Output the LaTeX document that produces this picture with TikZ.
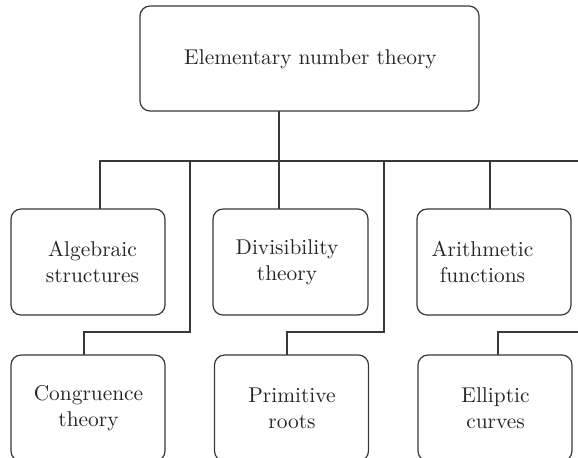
\documentclass[tikz,border=0pt]{standalone}
\usepackage{tikz}
\begin{document}
\begin{tikzpicture}[
  x=0.5pt, y=-0.5pt,
  box/.style={draw=black!78, line width=0.6pt, rounded corners=5pt,
              minimum width=77pt, minimum height=53pt, inner sep=0pt, outer sep=0pt},
  lbl/.style={text=black!85, align=center, inner sep=0pt,
              font=\fontsize{10.7}{13}\selectfont},
  wire/.style={draw=black!78, line width=0.6pt}
]
\clip (0,0) rectangle (578,457);

% root
\node[box, minimum width=169.5pt, minimum height=52.5pt] (root) at (309.5,58.5) {};
\node[lbl] (rootl) at (310.5,59) {Elementary number theory};

% first row
\node[box] (alg) at (88,262) {};
\node[box, minimum width=77.5pt] (div) at (290.5,262) {};
\node[box] (ari) at (494,262) {};
\node[lbl] (algl) at (92.5,262) {Algebraic\\structures};
\node[lbl] (divl) at (287,262) {Divisibility\\theory};
\node[lbl] (aril) at (482.5,262) {Arithmetic\\functions};

% second row
\node[box] (con) at (88,408) {};
\node[box] (pri) at (291.5,408) {};
\node[box] (ell) at (495,408) {};
\node[lbl] (conl) at (88.5,408) {Congruence\\theory};
\node[lbl] (pril) at (292,408) {Primitive\\roots};
\node[lbl] (elll) at (495.5,408) {Elliptic\\curves};

% bus and its running ends
\coordinate (busL) at (100,161);
\coordinate (busR) at (600,161);
\coordinate (ellR) at (600,332);

% root down through the bus into the middle box
\draw[wire] (279,0 |- root.south) -- (279,0 |- div.north);
% horizontal bus
\draw[wire] (100,0 |- alg.north) -- (busL) -- (busR);
\draw[wire] (490,161) -- (490,0 |- ari.north);
% elbows down to the second row
\draw[wire] (190,161) -- (190,332) -- (84,332) -- (84,0 |- con.north);
\draw[wire] (384,161) -- (384,332) -- (287,332) -- (287,0 |- pri.north);
\draw[wire] (ellR) -- (498,332) -- (498,0 |- ell.north);
\end{tikzpicture}
\end{document}
